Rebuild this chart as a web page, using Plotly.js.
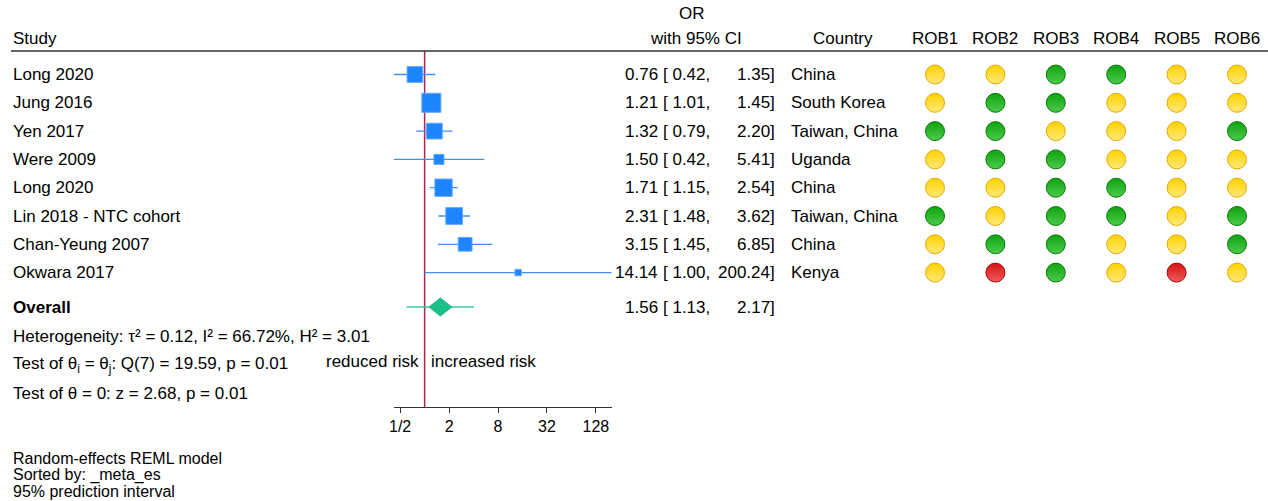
<!DOCTYPE html>
<html>
<head>
<meta charset="utf-8">
<script src="https://cdn.plot.ly/plotly-3.0.1.min.js"></script>
<style>html,body{margin:0;padding:0;background:#fff;}#chart{width:1268px;height:501px;}</style>
</head>
<body>
<div id="chart"></div>
<script>
// ---------- data ----------
const studies = ['Long 2020','Jung 2016','Yen 2017','Were 2009','Long 2020','Lin 2018 - NTC cohort','Chan-Yeung 2007','Okwara 2017'];
const oddsRatio = [0.76, 1.21, 1.32, 1.50, 1.71, 2.31, 3.15, 14.14];
const ciLower = [0.42, 1.01, 0.79, 0.42, 1.15, 1.48, 1.45, 1.00];
const ciUpper = [1.35, 1.45, 2.20, 5.41, 2.54, 3.62, 6.85, 200.24];
const weights = [14.0, 20.5, 14.0, 5.7, 17.0, 15.9, 10.7, 2.3];
const countries = ['China','South Korea','Taiwan, China','Uganda','China','Taiwan, China','China','Kenya'];
// risk of bias: L = low (green), S = some concerns (yellow), H = high (red)
const robLabels = ['ROB1','ROB2','ROB3','ROB4','ROB5','ROB6'];
const rob1 = ['S','S','L','S','S','L','S','S'];
const rob2 = ['S','L','L','L','S','S','L','H'];
const rob3 = ['L','L','S','L','L','L','L','L'];
const rob4 = ['L','S','S','S','L','L','S','S'];
const rob5 = ['S','S','S','S','S','S','S','H'];
const rob6 = ['S','S','L','S','S','L','L','S'];
const overallOR = 1.56, overallLower = 1.13, overallUpper = 2.17;
const predLower = 0.60, predUpper = 4.05;
const tickVals = [0.5, 2, 8, 32, 128];
const tickText = ['1/2', '2', '8', '32', '128'];
const hetText = 'Heterogeneity: \u03c4\u00b2 = 0.12, I\u00b2 = 66.72%, H\u00b2 = 3.01';
const qText = 'Test of \u03b8<sub>i</sub> = \u03b8<sub>j</sub>: Q(7) = 19.59, p = 0.01';
const zText = 'Test of \u03b8 = 0: z = 2.68, p = 0.01';
const footLines = ['Random-effects REML model', 'Sorted by: _meta_es', '95% prediction interval'];

// ---------- layout helpers ----------
const W = 1268, H = 501;
const px = p => p / W;
const py = p => 1 - p / H;
const FONT = '"Liberation Sans", Arial, Helvetica, sans-serif';
const rowTop = 74.5, rowStep = 28.3;           // pixel of row 1 and row spacing
const rowOf = p => 1 + (p - rowTop) / rowStep;   // pixel -> row units
const overallRow = rowOf(307);
const robColors = {
  S: {c: '#FFD200', g: '#FFE97A', l: '#E5A800'},
  L: {c: '#0FA30F', g: '#4CCB4C', l: '#087A08'},
  H: {c: '#D51414', g: '#F25A5A', l: '#A00C0C'}
};

const rows = studies.map((_, i) => i + 1);
const traces = [];

// study CIs and squares
traces.push({
  type: 'scatter', mode: 'markers', x: oddsRatio, y: rows, xaxis: 'x', yaxis: 'y',
  error_x: {type: 'data', symmetric: false,
    array: oddsRatio.map((v, i) => ciUpper[i] - v),
    arrayminus: oddsRatio.map((v, i) => v - ciLower[i]),
    color: '#3F90F7', thickness: 1.3, width: 0},
  marker: {symbol: 'square', color: '#1D85FF', opacity: 1, size: weights.map(w => 4.2 * Math.sqrt(w)),
    line: {color: '#5FA6FF', width: 1}},
  hoverinfo: 'skip', cliponaxis: false
});
// prediction interval
traces.push({
  type: 'scatter', mode: 'lines', x: [predLower, predUpper], y: [overallRow, overallRow],
  xaxis: 'x', yaxis: 'y', line: {color: '#3CC99A', width: 1.5}, hoverinfo: 'skip'
});
// overall diamond
const dh = 9 / rowStep;
traces.push({
  type: 'scatter', mode: 'lines', fill: 'toself', fillcolor: '#1DBF88',
  x: [overallLower, overallOR, overallUpper, overallOR, overallLower],
  y: [overallRow, overallRow - dh, overallRow, overallRow + dh, overallRow],
  xaxis: 'x', yaxis: 'y', line: {color: '#1DBF88', width: 1}, hoverinfo: 'skip'
});
// risk of bias dots
const robCols = [rob1, rob2, rob3, rob4, rob5, rob6];
['S', 'L', 'H'].forEach(code => {
  const xs = [], ys = [];
  robCols.forEach((col, j) => col.forEach((v, i) => {
    if (v === code) { xs.push(robLabels[j]); ys.push(i + 1); }
  }));
  const c = robColors[code];
  traces.push({
    type: 'scatter', mode: 'markers', x: xs, y: ys, xaxis: 'x2', yaxis: 'y',
    marker: {symbol: 'circle', size: 19, color: c.c, opacity: 1,
      gradient: {type: 'vertical', color: c.g}, line: {color: c.l, width: 1}},
    hoverinfo: 'skip', cliponaxis: false
  });
});

// ---------- annotations ----------
const ann = [];
const txt = (text, x, y, opts) => Object.assign({
  text, x, y, xref: 'paper', yref: 'paper', showarrow: false,
  xanchor: 'left', yanchor: 'middle', font: {family: FONT, size: 17, color: '#000'}
}, opts || {});

ann.push(txt('Study', px(11), py(38)));
ann.push(txt('OR', px(692), py(13), {xanchor: 'center'}));
ann.push(txt('with 95% CI', px(696), py(38), {xanchor: 'center'}));
ann.push(txt('Country', px(843), py(38), {xanchor: 'center'}));
robLabels.forEach(r => ann.push(txt(r, r, py(38), {xref: 'x2', xanchor: 'center'})));

studies.forEach((s, i) => {
  const y = i + 1;
  ann.push(txt(s, px(11), y, {yref: 'y'}));
  ann.push(txt(oddsRatio[i].toFixed(2), px(660), y, {yref: 'y', xanchor: 'right'}));
  ann.push(txt('[ ' + ciLower[i].toFixed(2) + ',', px(661), y, {yref: 'y'}));
  ann.push(txt(ciUpper[i].toFixed(2) + ']', px(777), y, {yref: 'y', xanchor: 'right'}));
  ann.push(txt(countries[i], px(789), y, {yref: 'y'}));
});
ann.push(txt('<b>Overall</b>', px(11), overallRow, {yref: 'y'}));
ann.push(txt(overallOR.toFixed(2), px(660), overallRow, {yref: 'y', xanchor: 'right'}));
ann.push(txt('[ ' + overallLower.toFixed(2) + ',', px(661), overallRow, {yref: 'y'}));
ann.push(txt(overallUpper.toFixed(2) + ']', px(777), overallRow, {yref: 'y', xanchor: 'right'}));

ann.push(txt(hetText, px(11), py(336)));
ann.push(txt(qText, px(11), py(365)));
ann.push(txt(zText, px(11), py(393)));
// annotation x on a log axis is given in log10 units: the null line OR = 1 sits at log10(1)
ann.push(txt('reduced risk', Math.log10(1), py(361), {xref: 'x', xanchor: 'right', xshift: -4}));
ann.push(txt('increased risk', Math.log10(1), py(361), {xref: 'x', xanchor: 'left', xshift: 4}));
footLines.forEach((t, k) => ann.push(txt(t, px(11), py(458 + 16.5 * k), {font: {family: FONT, size: 16, color: '#000'}})));

const layout = {
  width: W, height: H, margin: {l: 0, r: 0, t: 0, b: 0},
  paper_bgcolor: '#fff', plot_bgcolor: 'rgba(0,0,0,0)', showlegend: false,
  font: {family: FONT, size: 17, color: '#000'},
  xaxis: {type: 'log', range: [Math.log10(0.42), Math.log10(200.24)],
    domain: [px(394), px(611.7)], anchor: 'y',
    showline: true, linecolor: '#333', linewidth: 1, ticks: 'outside', ticklen: 5,
    tickcolor: '#333', tickvals: tickVals, ticktext: tickText,
    tickfont: {family: FONT, size: 16, color: '#000'}, showgrid: false, zeroline: false, fixedrange: true},
  xaxis2: {type: 'category', categoryarray: robLabels, categoryorder: 'array',
    range: [-0.5, 5.5], domain: [px(904.8), px(1267.2)], anchor: 'y',
    visible: false, showgrid: false, zeroline: false, fixedrange: true},
  yaxis: {range: [rowOf(407), rowOf(51)], domain: [py(407), py(51)],
    visible: false, showgrid: false, zeroline: false, fixedrange: true},
  shapes: [
    {type: 'line', xref: 'paper', yref: 'paper', x0: px(11), x1: 1, y0: py(51), y1: py(51),
      line: {color: '#333', width: 1.3}},
    {type: 'line', xref: 'x', yref: 'paper', x0: 1, x1: 1, y0: py(51), y1: py(407),
      line: {color: '#B0234D', width: 1.5}, layer: 'below'}
  ],
  annotations: ann
};

Plotly.newPlot('chart', traces, layout, {staticPlot: true, displayModeBar: false});
</script>
</body>
</html>
